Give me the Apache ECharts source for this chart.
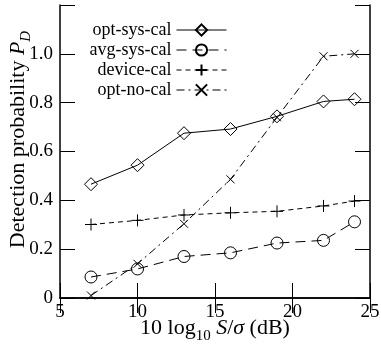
<!DOCTYPE html>
<html>
<head>
<meta charset="utf-8">
<script src="https://cdn.jsdelivr.net/npm/echarts@6/dist/echarts.min.js"></script>
<style>
  html, body { margin: 0; padding: 0; background: #fff; }
  #container { width: 381px; height: 346px; }
</style>
</head>
<body>
<div id="container"></div>
<script>
var snr = [7, 10, 13, 16, 19, 22, 24];
var optSysCal = [0.466, 0.544, 0.675, 0.692, 0.744, 0.805, 0.814];
var avgSysCal = [0.086, 0.119, 0.170, 0.185, 0.225, 0.236, 0.312];
var deviceCal = [0.301, 0.318, 0.340, 0.349, 0.355, 0.377, 0.397];
var optNoCal = [0.010, 0.140, 0.304, 0.486, 0.740, 0.990, 1.000];
var names = ['opt-sys-cal', 'avg-sys-cal', 'device-cal', 'opt-no-cal'];

var font = 'Liberation Serif';

function pairs(ys) {
    return snr.map(function (x, i) { return [x, ys[i]]; });
}

var plusPath = 'path://M0,5L10,5M5,0L5,10';
var crossPath = 'path://M0,0L10,10M10,0L0,10';

var dom = document.getElementById("container");
var myChart = echarts.init(dom);

function mkSeries(name, ys, symbol, size, dash) {
    return {
        name: name,
        type: 'line',
        xAxisIndex: 0,
        yAxisIndex: 0,
        data: pairs(ys),
        symbol: symbol,
        symbolSize: size,
        showAllSymbol: true,
        lineStyle: { color: '#000', width: 1, type: dash },
        itemStyle: { color: 'transparent', borderColor: '#000', borderWidth: 1 },
        emphasis: { disabled: true },
        z: 3
    };
}

var axisLine = { show: true, lineStyle: { color: '#000', width: 1.5 } };
var tick = { show: true, inside: true, length: 15, lineStyle: { color: '#000', width: 1 } };

// rich text styles for axis names (math-like subscripts)
function richName(subItalic) {
    return {
        n: { fontFamily: font, fontSize: 22, color: '#000', lineHeight: 24, verticalAlign: 'top' },
        i: { fontFamily: font, fontSize: 22, fontStyle: 'italic', color: '#000', lineHeight: 24, verticalAlign: 'top' },
        s: { fontFamily: font, fontSize: 15, fontStyle: subItalic ? 'italic' : 'normal', color: '#000', lineHeight: 15, padding: [12, 0, 0, 0], verticalAlign: 'top' }
    };
}

option = {
    backgroundColor: '#fff',
    animation: false,
    grid: { left: 60, right: 11, top: 5, bottom: 48, outerBoundsMode: 'none', containLabel: false },
    legend: {
        orient: 'vertical',
        right: 154,
        top: 21,
        padding: 0,
        align: 'right',
        itemWidth: 50,
        itemHeight: 14,
        itemGap: 2,
        lineStyle: { width: 1 },
        textStyle: { fontFamily: font, fontSize: 18, color: '#000' },
        data: names
    },
    xAxis: [
        {
            type: 'value', min: 5, max: 25, interval: 5,
            axisLine: axisLine, axisTick: tick, splitLine: { show: false },
            axisLabel: { margin: 5, fontFamily: font, fontSize: 19, color: '#000' },
            name: '{n|10 log}{s|10}{n| }{i|S}{n|/}{i|σ}{n| (dB)}',
            nameLocation: 'middle',
            nameGap: 19,
            nameMoveOverlap: false,
            nameTextStyle: { rich: richName(false) }
        },
        {
            type: 'value', position: 'top', min: 5, max: 25, interval: 5,
            axisLine: axisLine, axisTick: tick, splitLine: { show: false },
            axisLabel: { show: false }
        }
    ],
    yAxis: [
        {
            type: 'value', min: 0, max: 1.2, interval: 0.2,
            axisLine: axisLine, axisTick: tick, splitLine: { show: false },
            axisLabel: {
                margin: 7, fontFamily: font, fontSize: 19, color: '#000',
                formatter: function (v) {
                    if (v === 0) return '0';
                    if (v > 1.1) return '';
                    return v.toFixed(1);
                }
            },
            name: '{n|Detection probability }{i|P}{s|D}',
            nameLocation: 'middle',
            nameGap: 29,
            nameMoveOverlap: false,
            nameTextStyle: { padding: [0, 0, 0, 24], rich: richName(true) }
        },
        {
            type: 'value', position: 'right', min: 0, max: 1.2, interval: 0.2,
            axisLine: axisLine, axisTick: tick, splitLine: { show: false },
            axisLabel: { show: false }
        }
    ],
    series: [
        mkSeries(names[0], optSysCal, 'diamond', 13, 'solid'),
        mkSeries(names[1], avgSysCal, 'circle', 12, [10, 6]),
        mkSeries(names[2], deviceCal, plusPath, 12, [5, 4]),
        mkSeries(names[3], optNoCal, crossPath, 8, [8, 4, 2, 4])
    ]
};

if (option && typeof option === "object") {
    myChart.setOption(option, true);
}
</script>
</body>
</html>
